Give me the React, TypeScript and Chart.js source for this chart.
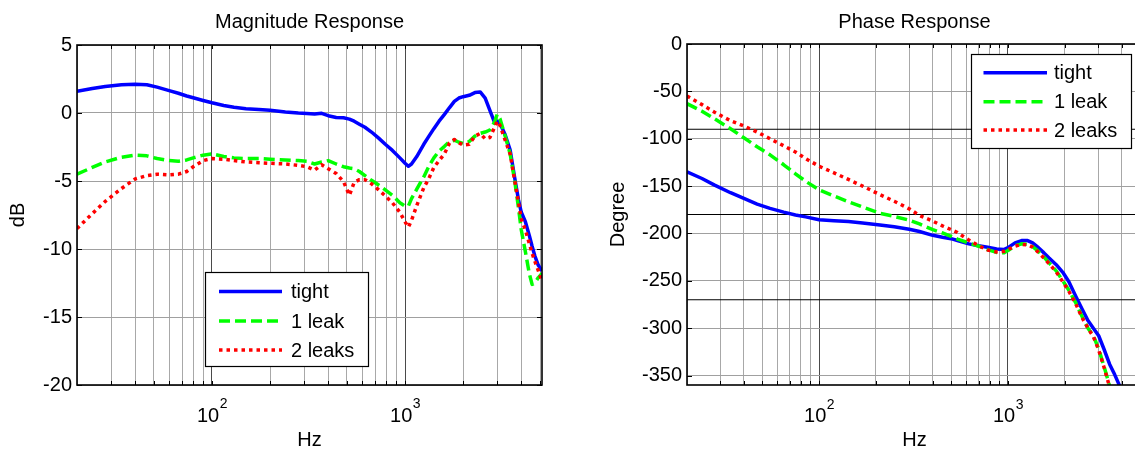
import React, { useEffect, useRef } from "react";
import { Chart, registerables } from "chart.js";

Chart.register(...registerables);

const FONT_FAMILY = '"Liberation Sans", Arial, Helvetica, sans-serif';

// ---------- axes ----------
const freqMin = 20;
const freqMax = 5120;
const gridHz = [20, 30, 40, 50, 60, 70, 80, 90, 100, 200, 300, 400, 500, 600, 700, 800, 900, 1000, 2000, 3000, 4000, 5000];
const decadeHz = [100, 1000];
const decadeExponents = ["2", "3"];

const magTitle = "Magnitude Response";
const phaseTitle = "Phase Response";
const xLabel = "Hz";
const magYLabel = "dB";
const phaseYLabel = "Degree";
const seriesNames = ["tight", "1 leak", "2 leaks"];

const magTicks = [-20, -15, -10, -5, 0, 5];
const phaseTicks = [-350, -300, -250, -200, -150, -100, -50, 0];
const phaseRefLines = [-90, -180, -270];

// ---------- magnitude data (dB) ----------
const magFreqHz = [
  20, 24, 28, 34, 40, 46, 52, 60, 67, 74,
  80, 90, 100, 115, 130, 150, 175, 200, 240, 280,
  310, 340, 370, 400, 440, 480, 515, 545, 580, 620,
  670, 730, 790, 860, 940, 1000, 1040, 1080, 1150, 1250,
  1330, 1410, 1500, 1600, 1700, 1800, 1900, 2000, 2150, 2300,
  2450, 2600, 2750, 2900, 3000, 3100, 3300, 3500, 3700, 3870,
  4000, 4200, 4400, 4550, 4700, 4900, 5120,
];
const magTight = [
  1.6, 1.8, 1.95, 2.08, 2.12, 2.08, 1.9, 1.65, 1.45, 1.25,
  1.12, 0.92, 0.75, 0.55, 0.42, 0.32, 0.26, 0.2, 0.08, 0.0,
  -0.03, -0.08, -0.02, -0.2, -0.33, -0.35, -0.45, -0.6, -0.82, -1.05,
  -1.4, -1.85, -2.3, -2.75, -3.3, -3.7, -3.92, -3.75, -3.2, -2.3,
  -1.7, -1.15, -0.6, -0.1, 0.4, 0.85, 1.1, 1.2, 1.3, 1.5,
  1.55, 1.1, 0.2, -0.65, -0.6, -0.75, -1.6, -2.7, -4.8, -6.4,
  -7.3, -8.0, -9.0, -9.8, -10.5, -11.2, -11.6,
];
const magOneLeak = [
  -4.5, -4.0, -3.6, -3.25, -3.1, -3.15, -3.35, -3.5, -3.55, -3.45,
  -3.3, -3.1, -3.0, -3.2, -3.3, -3.35, -3.35, -3.4, -3.45, -3.5,
  -3.55, -3.75, -3.6, -3.5, -3.75, -3.95, -4.05, -4.1, -4.3, -4.6,
  -4.95, -5.3, -5.65, -6.05, -6.6, -6.85, -6.85, -6.3, -5.6, -4.7,
  -3.9, -3.3, -2.8, -2.45, -2.1, -2.0, -2.15, -2.25, -2.1, -1.7,
  -1.5, -1.4, -1.25, -0.7, -0.1, -0.4, -1.7, -3.0, -5.0, -7.0,
  -8.6, -10.2, -11.8, -12.6, -12.5, -12.1, -11.8,
];
const magTwoLeaks = [
  -8.5, -7.4, -6.5, -5.55, -4.85, -4.6, -4.5, -4.55, -4.5, -4.3,
  -3.95, -3.5, -3.35, -3.4, -3.5, -3.6, -3.65, -3.7, -3.75, -3.85,
  -3.95, -4.2, -3.8, -4.1, -4.45, -5.05, -6.05, -5.1, -4.9, -4.9,
  -5.2, -5.65, -6.1, -6.6, -7.3, -8.0, -8.4, -7.9, -6.8, -5.5,
  -4.8, -4.0, -3.5, -3.0, -2.2, -1.95, -2.2, -2.35, -2.3, -1.7,
  -1.5, -1.9, -1.8, -1.1, -0.6, -0.9, -2.0, -3.0, -5.0, -6.6,
  -7.8, -8.6, -9.6, -10.3, -10.9, -11.6, -12.4,
];

// ---------- phase data (degree) ----------
const phaseFreqHz = [
  20, 24, 28, 34, 40, 47, 55, 65, 75, 85,
  100, 120, 143, 170, 210, 250, 300, 340, 400, 450,
  500, 540, 620, 700, 780, 870, 950, 1000, 1090, 1180,
  1270, 1350, 1450, 1550, 1650, 1800, 1950, 2100, 2280, 2470,
  2650, 2830, 3020, 3220, 3450, 3670, 3900, 4200, 4600, 5120,
];
const phaseTight = [
  -135, -142, -149, -157, -163, -169, -173.5, -177.5, -180.5, -182.5,
  -185.5, -186.5, -187.5, -189, -191, -193, -195.5, -198, -202, -204,
  -205.5, -207.5, -211, -213, -214.5, -216.5, -217, -215, -210, -207.5,
  -207.5, -210, -215, -220.5, -226, -233, -241, -251, -266, -280,
  -292, -300, -308, -322, -338, -349, -361, -378, -398, -425,
];
const phaseOneLeak = [
  -63, -71, -79, -89.5, -99, -108.5, -117, -127.5, -137, -145,
  -154, -160.5, -166.5, -172, -178.8, -182, -186, -190, -196, -199.5,
  -203, -206, -210, -213.5, -217, -220, -220.5, -218, -213, -211,
  -211.5, -214, -219, -225, -231, -239.5, -250, -260, -273, -288,
  -300, -308, -322, -340, -361, -376, -390, -405, -425, -450,
];
const phaseTwoLeaks = [
  -55, -64, -72, -81, -86.5, -93, -100, -107.5, -114, -121,
  -129, -136, -143, -150, -159, -166, -174, -181, -187, -192,
  -196, -199, -207, -213, -217.5, -219.5, -219, -217, -213.5, -211.5,
  -212, -214.5, -220, -226, -232, -240.5, -251, -261, -274, -289,
  -300, -309, -323, -341, -362, -377, -391, -406, -426, -452,
];

// ---------- styles ----------
const SERIES_STYLE = [
  { color: "#0000ff", dash: [] as number[], width: 3.5 },
  { color: "#00ff00", dash: [11, 5], width: 3.5 },
  { color: "#ff0000", dash: [3.5, 4], width: 3.5 },
];

type Panel = {
  title: string;
  yLabel: string;
  yMin: number;
  yMax: number;
  yTicks: number[];
  freq: number[];
  series: number[][];
  refLines: number[];
  canvasW: number;
  canvasH: number;
  area: { left: number; top: number; right: number; bottom: number };
  titlePadTop: number;
  yTitlePad: number;
  legend: { x: number; y: number; w: number; h: number; lineX0: number; lineX1: number; textX: number; rows: number[] };
  expBaseline: number;
};

function font(size: number) {
  return { family: FONT_FAMILY, size, weight: "normal" as const, lineHeight: 1.2 };
}

function buildConfig(p: Panel): any {
  const datasets: any[] = [];
  p.refLines.forEach((v) => {
    datasets.push({
      data: [
        { x: freqMin, y: v },
        { x: freqMax, y: v },
      ],
      borderColor: "#000000",
      borderWidth: 1,
      pointRadius: 0,
      order: 10,
    });
  });
  p.series.forEach((vals, i) => {
    const st = SERIES_STYLE[i];
    datasets.push({
      label: seriesNames[i],
      data: p.freq.map((f, j) => ({ x: f, y: vals[j] })),
      borderColor: st.color,
      borderDash: st.dash,
      borderWidth: st.width,
      borderCapStyle: "butt",
      borderJoinStyle: "round",
      pointRadius: 0,
      tension: 0,
      fill: false,
      order: 3 - i,
    });
  });

  const framePlugin = {
    id: "frameAndLegend",
    afterDatasetsDraw(chart: any) {
      const { ctx, chartArea: a, scales } = chart;
      ctx.save();
      ctx.setLineDash([]);
      ctx.strokeStyle = "#000";
      ctx.lineWidth = 1;
      ctx.beginPath();
      for (const v of gridHz) {
        if (v <= freqMin || v >= freqMax) continue;
        const px = Math.round(scales.x.getPixelForValue(v)) + 0.5;
        ctx.moveTo(px, a.bottom);
        ctx.lineTo(px, a.bottom - 4);
        ctx.moveTo(px, a.top);
        ctx.lineTo(px, a.top + 4);
      }
      for (const t of p.yTicks) {
        const py = Math.round(scales.y.getPixelForValue(t)) + 0.5;
        ctx.moveTo(a.left, py);
        ctx.lineTo(a.left + 5, py);
        ctx.moveTo(a.right, py);
        ctx.lineTo(a.right - 5, py);
      }
      ctx.stroke();
      ctx.lineWidth = 1.6;
      ctx.strokeRect(a.left, a.top, a.right - a.left, a.bottom - a.top);

      // legend
      const L = p.legend;
      ctx.fillStyle = "#ffffff";
      ctx.fillRect(L.x, L.y, L.w, L.h);
      ctx.lineWidth = 1.2;
      ctx.strokeStyle = "#000";
      ctx.strokeRect(L.x + 0.5, L.y + 0.5, L.w, L.h);
      seriesNames.forEach((name, i) => {
        const st = SERIES_STYLE[i];
        const y = L.y + L.rows[i];
        ctx.beginPath();
        ctx.setLineDash(st.dash);
        ctx.lineCap = "butt";
        ctx.strokeStyle = st.color;
        ctx.lineWidth = st.width;
        ctx.moveTo(L.lineX0, y);
        ctx.lineTo(L.lineX1, y);
        ctx.stroke();
        ctx.setLineDash([]);
        ctx.fillStyle = "#000";
        ctx.font = `20px ${FONT_FAMILY}`;
        ctx.textAlign = "left";
        ctx.textBaseline = "middle";
        ctx.fillText(name, L.textX, y + 1);
      });
      ctx.restore();
    },
    afterDraw(chart: any) {
      const { ctx, scales } = chart;
      ctx.save();
      ctx.fillStyle = "#000";
      ctx.textAlign = "left";
      ctx.textBaseline = "alphabetic";
      decadeHz.forEach((v, i) => {
        const px = scales.x.getPixelForValue(v);
        ctx.font = `20px ${FONT_FAMILY}`;
        const wBase = ctx.measureText("10").width;
        ctx.font = `14px ${FONT_FAMILY}`;
        const wExp = ctx.measureText(decadeExponents[i]).width;
        const x0 = px - (wBase + wExp) / 2;
        ctx.font = `20px ${FONT_FAMILY}`;
        ctx.fillText("10", x0, p.expBaseline);
        ctx.font = `14px ${FONT_FAMILY}`;
        ctx.fillText(decadeExponents[i], x0 + wBase + 0.5, p.expBaseline - 13.5);
      });
      ctx.restore();
    },
  };

  return {
    type: "line",
    data: { datasets },
    plugins: [framePlugin],
    options: {
      responsive: false,
      animation: false,
      events: [],
      layout: { padding: { left: 0, top: 1, right: p.canvasW - p.area.right, bottom: 0 } },
      plugins: {
        legend: { display: false },
        tooltip: { enabled: false },
        title: {
          display: true,
          text: p.title,
          fullSize: false,
          color: "#000",
          font: font(20),
          padding: { top: p.titlePadTop, bottom: p.area.top - 1 - p.titlePadTop - 24 },
        },
      },
      scales: {
        x: {
          type: "logarithmic",
          min: freqMin,
          max: freqMax,
          afterBuildTicks: (s: any) => {
            s.ticks = gridHz.map((v) => ({ value: v }));
          },
          afterFit: (s: any) => {
            s.height = p.canvasH - p.area.bottom;
          },
          ticks: { display: false },
          grid: {
            color: (c: any) => (c.tick && decadeHz.includes(c.tick.value) ? "#4a4a4a" : "#a8a8a8"),
            lineWidth: 1,
            drawTicks: false,
          },
          border: { display: false },
          title: {
            display: true,
            text: xLabel,
            color: "#000",
            font: font(20),
            padding: { top: 0, bottom: 0 },
          },
        },
        y: {
          type: "linear",
          min: p.yMin,
          max: p.yMax,
          afterBuildTicks: (s: any) => {
            s.ticks = p.yTicks.map((v) => ({ value: v }));
          },
          afterFit: (s: any) => {
            s.width = p.area.left;
          },
          ticks: { color: "#000", font: font(20), padding: 5 },
          grid: { color: "#a0a0a0", lineWidth: 1, drawTicks: false },
          border: { display: false },
          title: {
            display: true,
            text: p.yLabel,
            color: "#000",
            font: font(20),
            padding: { top: p.yTitlePad, bottom: 0 },
          },
        },
      },
    },
  };
}

const magPanel: Panel = {
  title: magTitle,
  yLabel: magYLabel,
  yMin: -20,
  yMax: 5,
  yTicks: magTicks,
  freq: magFreqHz,
  series: [magTight, magOneLeak, magTwoLeaks],
  refLines: [],
  canvasW: 560,
  canvasH: 452,
  area: { left: 77, top: 45, right: 542, bottom: 385 },
  titlePadTop: 9,
  yTitlePad: 6,
  legend: { x: 205, y: 272, w: 163, h: 94, lineX0: 219, lineX1: 282, textX: 291, rows: [19.5, 49, 78] },
  expBaseline: 421.5,
};

const phasePanel: Panel = {
  title: phaseTitle,
  yLabel: phaseYLabel,
  yMin: -360,
  yMax: 0,
  yTicks: phaseTicks,
  freq: phaseFreqHz,
  series: [phaseTight, phaseOneLeak, phaseTwoLeaks],
  refLines: phaseRefLines,
  canvasW: 580,
  canvasH: 452,
  area: { left: 107, top: 44, right: 562, bottom: 385 },
  titlePadTop: 9,
  yTitlePad: 26,
  legend: { x: 391, y: 54, w: 160, h: 94, lineX0: 403.5, lineX1: 467, textX: 474, rows: [18.7, 47.7, 76] },
  expBaseline: 422,
};

function PanelChart({ panel, left }: { panel: Panel; left: number }) {
  const ref = useRef<HTMLCanvasElement | null>(null);
  useEffect(() => {
    if (!ref.current) return;
    const chart = new Chart(ref.current, buildConfig(panel));
    return () => chart.destroy();
  }, [panel]);
  return (
    <div style={{ position: "absolute", left, top: 0, width: panel.canvasW, height: panel.canvasH }}>
      <canvas ref={ref} width={panel.canvasW} height={panel.canvasH} style={{ display: "block" }} />
    </div>
  );
}

export default function App() {
  return (
    <div
      style={{
        position: "fixed",
        left: 0,
        top: 0,
        width: 1135,
        height: 452,
        overflow: "hidden",
        background: "#ffffff",
      }}
    >
      <PanelChart panel={magPanel} left={0} />
      <PanelChart panel={phasePanel} left={580} />
    </div>
  );
}
